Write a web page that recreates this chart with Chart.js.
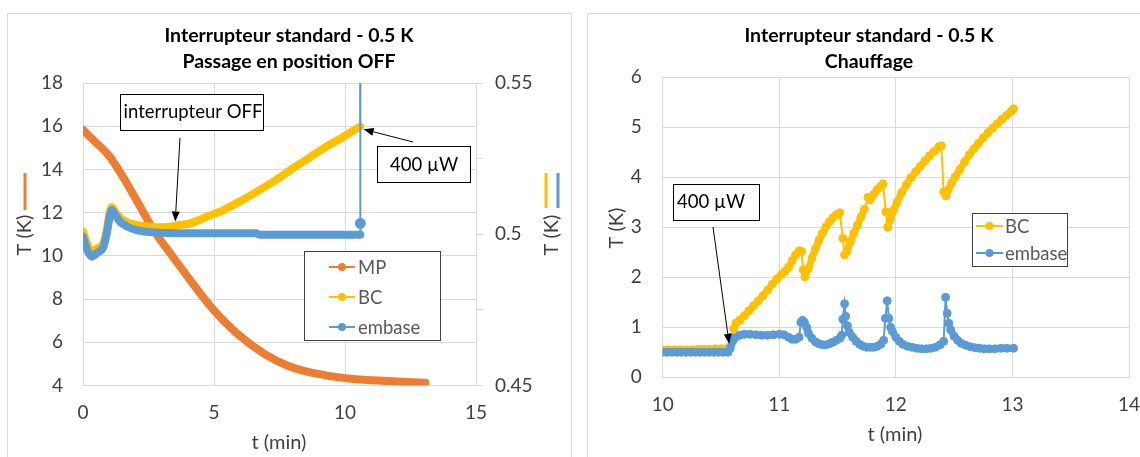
<!DOCTYPE html>
<html lang="fr">
<head>
<meta charset="UTF-8">
<title>Interrupteur standard - 0.5 K</title>
<script src="https://cdn.jsdelivr.net/npm/chart.js"></script>
<style>
  html, body { margin: 0; padding: 0; background: #fff; width: 1140px; height: 457px; overflow: hidden; position: relative; }
  .panel { position: absolute; top: 13px; height: 470px; border: 1px solid #d9d9d9; box-sizing: border-box; }
  #leftPanel { left: 7px; width: 565px; }
  #rightPanel { left: 587px; width: 620px; }
  canvas { position: absolute; top: 13px; }
  #leftChart { left: 7px; }
  #rightChart { left: 587px; }
</style>
</head>
<body>
<div class="panel" id="leftPanel"></div>
<div class="panel" id="rightPanel"></div>
<canvas id="leftChart" width="564" height="444"></canvas>
<canvas id="rightChart" width="600" height="444"></canvas>

<script>
// ---- left chart: passage en position OFF (t in min) ----
// MP on the left axis (K)
const mpTime = [0, 0.46, 0.91, 1.16, 1.67, 2.18, 2.69, 3.33, 4.09, 4.98, 5.87, 6.89, 7.91, 9.18, 10.33, 11.6, 13.07];
const mpTemp = [15.83, 15.28, 14.75, 14.36, 13.36, 12.28, 11.2, 10.12, 8.88, 7.5, 6.42, 5.49, 4.87, 4.49, 4.30, 4.21, 4.13];

// BC and embase on the right axis (K)
const bcTimeL = [0, 0.15, 0.34, 0.55, 0.78, 0.91, 1.0, 1.1, 1.25, 1.42, 1.7, 2.05, 2.5, 2.94, 3.3, 3.7, 4.09, 4.7, 5.36, 6.0, 6.64, 7.3, 7.91, 8.55, 9.18, 9.9, 10.58];
const bcTempL = [0.5009, 0.4971, 0.4942, 0.4954, 0.4971, 0.5014, 0.5064, 0.5089, 0.5071, 0.5054, 0.5039, 0.5031, 0.5026, 0.5023, 0.5025, 0.5031, 0.5036, 0.5057, 0.5080, 0.5109, 0.5141, 0.5176, 0.5212, 0.5248, 0.5284, 0.5320, 0.5356];
const embTimeL = [0, 0.15, 0.34, 0.55, 0.78, 0.91, 1.0, 1.1, 1.25, 1.42, 1.7, 2.05, 2.6, 3.33, 4.5, 6.6, 6.75, 8.5, 10.585];
const embTempL = [0.4992, 0.4950, 0.4926, 0.4939, 0.4959, 0.5004, 0.5050, 0.5080, 0.5061, 0.5041, 0.5025, 0.5014, 0.5007, 0.5004, 0.5003, 0.5003, 0.4998, 0.4998, 0.4998];
// heater switched on: both go off the top of the axis
const bcSpikeT = [10.575, 10.575];
const bcSpikeV = [0.5356, 0.60];
const embSpikeT = [10.585, 10.585, 10.585];
const embSpikeV = [0.4998, 0.5036, 0.60];

// ---- right chart: chauffage ----
const bcTimeR = [10.00, 10.05, 10.10, 10.15, 10.20, 10.25, 10.30, 10.35, 10.40, 10.45, 10.50, 10.55, 10.57, 10.59, 10.61, 10.63, 10.66, 10.70, 10.74, 10.78,
  10.82, 10.86, 10.90, 10.94, 10.98, 11.02, 11.05, 11.08, 11.11, 11.14, 11.17, 11.19, 11.205, 11.22, 11.25, 11.28, 11.31, 11.34, 11.37, 11.40,
  11.43, 11.46, 11.49, 11.52, 11.545, 11.56, 11.58, 11.61, 11.64, 11.67, 11.70, 11.73, 11.76, 11.78, 11.81, 11.84, 11.87, 11.89, 11.915, 11.93,
  11.95, 11.98, 12.01, 12.05, 12.09, 12.13, 12.17, 12.21, 12.25, 12.29, 12.33, 12.37, 12.39, 12.41, 12.43, 12.45, 12.48, 12.51, 12.55, 12.59,
  12.63, 12.67, 12.71, 12.75, 12.79, 12.83, 12.87, 12.91, 12.95, 12.99, 13.01];
const bcTempR = [0.55, 0.55, 0.55, 0.55, 0.55, 0.55, 0.56, 0.56, 0.56, 0.57, 0.57, 0.57, 0.60, 0.80, 0.97, 1.09, 1.14, 1.23, 1.33, 1.43,
  1.53, 1.63, 1.74, 1.86, 1.97, 2.06, 2.12, 2.20, 2.33, 2.45, 2.53, 2.52, 2.15, 2.01, 2.18, 2.38, 2.57, 2.74, 2.88, 3.01,
  3.11, 3.19, 3.25, 3.29, 2.78, 2.45, 2.52, 2.71, 2.88, 3.04, 3.20, 3.36, 3.60, 3.55, 3.66, 3.75, 3.82, 3.87, 3.31, 3.00,
  3.14, 3.34, 3.50, 3.69, 3.85, 3.99, 4.11, 4.22, 4.33, 4.43, 4.52, 4.61, 4.63, 3.71, 3.63, 3.75, 3.89, 4.01, 4.16, 4.31,
  4.45, 4.57, 4.68, 4.79, 4.89, 4.98, 5.07, 5.16, 5.24, 5.32, 5.37];
const embTimeR = [10.00, 10.04, 10.08, 10.12, 10.16, 10.20, 10.24, 10.28, 10.32, 10.36, 10.40, 10.44, 10.48, 10.52, 10.56, 10.58, 10.60, 10.62, 10.66, 10.70,
  10.75, 10.80, 10.85, 10.90, 10.95, 11.00, 11.04, 11.08, 11.11, 11.14, 11.17, 11.185, 11.20, 11.215, 11.235, 11.25, 11.28, 11.31, 11.34, 11.37,
  11.40, 11.43, 11.46, 11.49, 11.52, 11.535, 11.545, 11.56, 11.57, 11.585, 11.60, 11.63, 11.66, 11.69, 11.72, 11.75, 11.78, 11.81, 11.84, 11.87,
  11.895, 11.91, 11.926, 11.94, 11.955, 11.97, 12.00, 12.03, 12.06, 12.10, 12.14, 12.18, 12.22, 12.26, 12.30, 12.34, 12.38, 12.41, 12.427, 12.44,
  12.455, 12.47, 12.50, 12.53, 12.56, 12.60, 12.64, 12.68, 12.72, 12.76, 12.80, 12.85, 12.90, 12.95, 13.01];
const embTempR = [0.50, 0.50, 0.50, 0.50, 0.50, 0.50, 0.50, 0.50, 0.50, 0.50, 0.50, 0.50, 0.50, 0.50, 0.50, 0.58, 0.72, 0.79, 0.84, 0.86,
  0.86, 0.85, 0.84, 0.84, 0.85, 0.86, 0.85, 0.80, 0.76, 0.76, 0.80, 1.10, 1.14, 1.10, 1.00, 0.88, 0.78, 0.71, 0.67, 0.65,
  0.65, 0.67, 0.70, 0.74, 0.78, 0.84, 1.16, 1.47, 1.22, 1.03, 0.90, 0.80, 0.72, 0.66, 0.62, 0.60, 0.60, 0.60, 0.62, 0.66,
  0.74, 1.18, 1.53, 1.18, 1.00, 0.92, 0.80, 0.72, 0.66, 0.62, 0.60, 0.58, 0.57, 0.57, 0.58, 0.60, 0.65, 0.72, 1.60, 1.28,
  1.08, 0.95, 0.82, 0.74, 0.68, 0.64, 0.61, 0.59, 0.58, 0.57, 0.57, 0.57, 0.58, 0.58, 0.58];

const ORANGE = '#ED7D31', GOLD = '#FFC000', BLUE = '#5B9BD5';
const GRID = '#d9d9d9';
const FONT = 'Lato, "Open Sans", sans-serif';

Chart.defaults.font.family = FONT;
Chart.defaults.font.size = 19;
Chart.defaults.color = '#404040';

function pts(ts, vs) {
  return ts.map((t, i) => ({ x: t, y: vs[i] }));
}

function arrow(ctx, x0, y0, x1, y1) {
  const a = Math.atan2(y1 - y0, x1 - x0), L = 10, W = 4;
  const c = Math.cos(a), s = Math.sin(a);
  ctx.beginPath();
  ctx.moveTo(x0, y0);
  ctx.lineTo(x1 - L * c, y1 - L * s);
  ctx.stroke();
  ctx.beginPath();
  ctx.moveTo(x1, y1);
  ctx.lineTo(x1 - L * c + W * s, y1 - L * s - W * c);
  ctx.lineTo(x1 - L * c - W * s, y1 - L * s + W * c);
  ctx.closePath();
  ctx.fill();
}

// titles, axis titles, legend box and the callouts
const decor = {
  id: 'decor',
  afterDraw(chart, args, o) {
    const ctx = chart.ctx;
    ctx.save();
    ctx.textAlign = 'center';
    ctx.textBaseline = 'middle';

    ctx.fillStyle = '#000';
    ctx.font = 'bold 19.5px ' + FONT;
    o.title.forEach((line, i) => ctx.fillText(line, o.titleX, 23 + i * 26));

    ctx.fillStyle = '#404040';
    ctx.font = '20px ' + FONT;
    ctx.fillText('t (min)', o.xTitle[0], o.xTitle[1]);
    o.yTitles.forEach(p => {
      ctx.save();
      ctx.translate(p[0], p[1]);
      ctx.rotate(-Math.PI / 2);
      ctx.fillText('T (K)', 0, 0);
      ctx.restore();
    });
    ctx.lineWidth = 3;
    o.keys.forEach(k => {
      ctx.strokeStyle = k.color;
      ctx.beginPath();
      ctx.moveTo(k.x, k.y0);
      ctx.lineTo(k.x, k.y1);
      ctx.stroke();
    });

    // legend
    const lg = o.legend;
    ctx.fillStyle = '#fff';
    ctx.fillRect(lg.box[0], lg.box[1], lg.box[2], lg.box[3]);
    ctx.strokeStyle = '#404040';
    ctx.lineWidth = 1;
    ctx.strokeRect(lg.box[0] + 0.5, lg.box[1] + 0.5, lg.box[2], lg.box[3]);
    ctx.font = '18.5px ' + FONT;
    ctx.textAlign = 'left';
    lg.items.forEach(it => {
      ctx.strokeStyle = it.color;
      ctx.fillStyle = it.color;
      ctx.lineWidth = 2;
      ctx.beginPath();
      ctx.moveTo(lg.line[0], it.y);
      ctx.lineTo(lg.line[1], it.y);
      ctx.stroke();
      ctx.beginPath();
      ctx.arc((lg.line[0] + lg.line[1]) / 2, it.y, lg.r, 0, Math.PI * 2);
      ctx.fill();
      ctx.fillStyle = '#595959';
      ctx.fillText(it.label, lg.textX, it.y + 1);
    });

    // callouts
    ctx.textAlign = 'center';
    o.notes.forEach(n => {
      const sc = chart.scales[n.axis];
      const tx = chart.scales.x.getPixelForValue(n.tip[0]);
      const ty = sc.getPixelForValue(n.tip[1]);
      ctx.strokeStyle = '#000';
      ctx.fillStyle = '#000';
      ctx.lineWidth = 1;
      arrow(ctx, n.from[0], n.from[1], tx, ty);
      ctx.fillStyle = '#fff';
      ctx.fillRect(n.box[0], n.box[1], n.box[2], n.box[3]);
      ctx.strokeStyle = '#000';
      ctx.strokeRect(n.box[0] + 0.5, n.box[1] + 0.5, n.box[2], n.box[3]);
      ctx.fillStyle = '#000';
      ctx.font = '18.5px ' + FONT;
      ctx.fillText(n.text, n.textAt[0], n.textAt[1]);
    });
    ctx.restore();
  }
};

function fixed(w, h) {
  return s => {
    if (w != null) s.width = w;
    if (h != null) s.height = h;
    s.paddingLeft = 0; s.paddingRight = 0; s.paddingTop = 0; s.paddingBottom = 0;
  };
}

const thick = {
  pointRadius: 0,
  borderWidth: 8,
  borderCapStyle: 'round',
  borderJoinStyle: 'round',
  cubicInterpolationMode: 'monotone'
};

new Chart(document.getElementById('leftChart'), {
  type: 'line',
  data: {
    datasets: [
      { label: 'MP', data: pts(mpTime, mpTemp), yAxisID: 'y', borderColor: ORANGE, order: 2, ...thick },
      { label: 'BC', data: pts(bcTimeL, bcTempL), yAxisID: 'y1', borderColor: GOLD, order: 1, ...thick },
      { label: 'embase', data: pts(embTimeL, embTempL), yAxisID: 'y1', borderColor: BLUE, order: 0, ...thick },
      { label: 'BC+', data: pts(bcSpikeT, bcSpikeV), yAxisID: 'y1', borderColor: GOLD, borderWidth: 2, pointRadius: 0, order: 1 },
      { label: 'embase+', data: pts(embSpikeT, embSpikeV), yAxisID: 'y1', borderColor: BLUE, borderWidth: 2,
        pointRadius: [0, 4.5, 0], pointBackgroundColor: BLUE, pointBorderColor: BLUE, order: 0 }
    ]
  },
  options: {
    responsive: false,
    animation: false,
    layout: { padding: { top: 70, left: 0, right: 0, bottom: 0 } },
    plugins: {
      legend: { display: false },
      tooltip: { enabled: false },
      decor: {
        title: ['Interrupteur standard - 0.5 K', 'Passage en position OFF'],
        titleX: 282,
        xTitle: [272, 430],
        yTitles: [[18, 222], [545, 222]],
        keys: [
          { x: 18, y0: 160, y1: 197, color: ORANGE },
          { x: 539, y0: 160, y1: 195, color: GOLD },
          { x: 551, y0: 160, y1: 195, color: BLUE }
        ],
        legend: {
          box: [297, 238, 136, 89],
          line: [322, 348],
          r: 4,
          textX: 351,
          items: [
            { label: 'MP', color: ORANGE, y: 254 },
            { label: 'BC', color: GOLD, y: 284 },
            { label: 'embase', color: BLUE, y: 314 }
          ]
        },
        notes: [
          { text: 'interrupteur OFF', box: [113, 81, 143, 36], textAt: [186, 99], from: [173, 125], tip: [3.52, 11.59], axis: 'y' },
          { text: '400 µW', box: [370, 133, 93, 36], textAt: [417, 152], from: [406, 129], tip: [10.71, 0.5347], axis: 'y1' }
        ]
      }
    },
    scales: {
      x: {
        type: 'linear', min: 0, max: 15,
        ticks: { stepSize: 5, padding: 16, maxRotation: 0 },
        grid: { color: GRID, drawTicks: false },
        border: { color: GRID },
        afterFit: fixed(null, 71.5)
      },
      y: {
        position: 'left', min: 4, max: 18,
        ticks: { stepSize: 2, padding: 20 },
        grid: { color: GRID, drawTicks: false },
        border: { color: GRID },
        afterFit: fixed(76, null)
      },
      y1: {
        position: 'right', min: 0.45, max: 0.55,
        ticks: {
          stepSize: 0.025, padding: 12,
          callback: v => (Math.round(v * 1000) % 50 === 0 ? String(+v.toFixed(2)) : '')
        },
        grid: { color: GRID, drawOnChartArea: false, drawTicks: true, tickLength: 7 },
        border: { display: false },
        afterFit: fixed(95, null)
      }
    }
  },
  plugins: [decor]
});

// markers joined by a thin line
const dotted = {
  borderWidth: 2,
  pointRadius: 4,
  pointBorderWidth: 1,
  tension: 0
};
// dense runs of markers read as a solid band; steep jumps stay thin
const steep = c => {
  const a = c.p0.parsed, b = c.p1.parsed;
  return Math.abs((b.y - a.y) / (b.x - a.x)) > 8;
};
function band(color) {
  return {
    borderWidth: 7,
    borderColor: color,
    borderCapStyle: 'round',
    borderJoinStyle: 'round',
    pointRadius: 0,
    tension: 0,
    segment: { borderColor: c => (steep(c) ? 'rgba(0,0,0,0)' : color) }
  };
}

new Chart(document.getElementById('rightChart'), {
  type: 'line',
  data: {
    datasets: [
      { label: 'BC', data: pts(bcTimeR, bcTempR), borderColor: GOLD, pointBackgroundColor: GOLD, pointBorderColor: GOLD, order: 1, ...dotted },
      { label: 'BC band', data: pts(bcTimeR, bcTempR), order: 1.5, ...band(GOLD) },
      { label: 'embase', data: pts(embTimeR, embTempR), borderColor: BLUE, pointBackgroundColor: BLUE, pointBorderColor: BLUE, order: 0, ...dotted },
      { label: 'embase band', data: pts(embTimeR, embTempR), order: 0.5, ...band(BLUE) }
    ]
  },
  options: {
    responsive: false,
    animation: false,
    layout: { padding: { top: 64.3, left: 0, right: 58, bottom: 0 } },
    plugins: {
      legend: { display: false },
      tooltip: { enabled: false },
      decor: {
        title: ['Interrupteur standard - 0.5 K', 'Chauffage'],
        titleX: 282,
        xTitle: [308, 422],
        yTitles: [[30, 215]],
        keys: [],
        legend: {
          box: [385, 200, 95, 53],
          line: [389, 416],
          r: 4,
          textX: 418,
          items: [
            { label: 'BC', color: GOLD, y: 213 },
            { label: 'embase', color: BLUE, y: 240 }
          ]
        },
        notes: [
          { text: '400 µW', box: [86, 171, 86, 36], textAt: [124, 189], from: [126, 214], tip: [10.57, 0.67], axis: 'y' }
        ]
      }
    },
    scales: {
      x: {
        type: 'linear', min: 10, max: 14,
        ticks: { stepSize: 1, padding: 16, maxRotation: 0 },
        grid: { color: GRID, drawTicks: false },
        border: { color: GRID },
        afterFit: fixed(null, 79.7)
      },
      y: {
        min: 0, max: 6,
        ticks: { stepSize: 1, padding: 21 },
        grid: { color: GRID, drawTicks: false },
        border: { color: GRID },
        afterFit: fixed(75.7, null)
      }
    }
  },
  plugins: [decor]
});
</script>
</body>
</html>
